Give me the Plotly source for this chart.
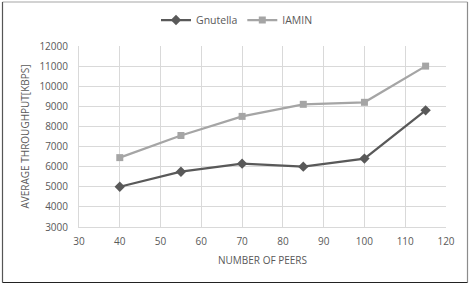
import plotly.graph_objects as go

peers = [40, 55, 70, 85, 100, 115]
gnutella = [5000, 5750, 6150, 6000, 6400, 8800]
iamin = [6450, 7550, 8500, 9100, 9200, 11000]

W, H = 471, 286
L, R, T, B = 79, 25, 46, 59

fig = go.Figure()
fig.add_trace(go.Scatter(x=peers, y=gnutella, mode='lines+markers', name='Gnutella',
                         line=dict(color='#595959', width=2.25),
                         marker=dict(symbol='diamond', size=8, color='#595959')))
fig.add_trace(go.Scatter(x=peers, y=iamin, mode='lines+markers', name='IAMIN',
                         line=dict(color='#a5a5a5', width=2.25),
                         marker=dict(symbol='square', size=7, color='#a5a5a5')))

# outer frame around the whole chart (pixel -> paper coords)
pw, ph = W - L - R, H - T - B


def px(x):
    return (x - L) / pw


def py(y):
    return (H - B - y) / ph


frame = [
    (2.5, 2, 467.5, 2, '#a6a6a6'),
    (2.5, 2, 2.5, 282.5, '#555555'),
    (467.5, 2, 467.5, 282.5, '#8c8c8c'),
    (2.5, 282.5, 467.5, 282.5, '#222222'),
]
for x0, y0, x1, y1, c in frame:
    fig.add_shape(type='line', xref='paper', yref='paper',
                  x0=px(x0), y0=py(y0), x1=px(x1), y1=py(y1),
                  line=dict(color=c, width=1.2))

fig.update_layout(
    width=W, height=H,
    margin=dict(l=L, r=R, t=T, b=B, autoexpand=False),
    paper_bgcolor='white', plot_bgcolor='white',
    font=dict(family='Open Sans, sans-serif', size=10, color='#595959'),
    legend=dict(orientation='h', x=px(237), xanchor='center', y=py(20), yanchor='middle',
                font=dict(size=10.5), itemwidth=30, tracegroupgap=0),
    xaxis=dict(range=[30, 120], dtick=10, showgrid=True, gridcolor='#d9d9d9',
               zeroline=False, showline=True, linecolor='#d9d9d9', ticks='',
               ticklabelstandoff=5,
               title=dict(text='NUMBER OF PEERS', font=dict(size=10), standoff=9)),
    yaxis=dict(range=[3000, 12000], dtick=1000, tickformat='d', showgrid=True,
               gridcolor='#d9d9d9', zeroline=False, showline=True, linecolor='#d9d9d9',
               ticks='', ticklabelstandoff=8,
               title=dict(text='AVERAGE THROUGHPUT[KBPS]', font=dict(size=10),
                          standoff=7)),
)

fig.write_html("out.html", config={'displayModeBar': False},
               post_script="document.body.style.margin='0';")
